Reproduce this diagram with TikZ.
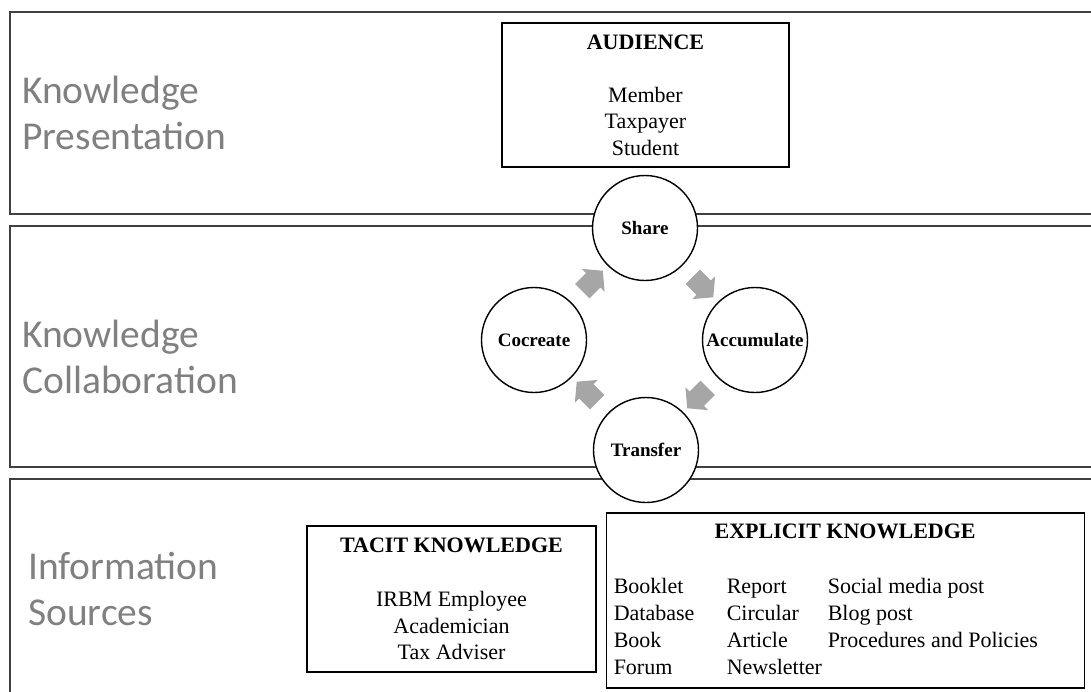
\documentclass[tikz,border=0pt]{standalone}
\usepackage{fontspec}
\setmainfont{Liberation Serif}
\newfontfamily\bandfont{Carlito}
\usetikzlibrary{positioning,shapes.arrows,calc}

\begin{document}
\begin{tikzpicture}[x=1pt, y=-1pt,
    band/.style={draw=black!75, line width=1.4pt},
    bandlabel/.style={anchor=west, align=left, inner sep=0pt, text=black!50,
        font=\bandfont\fontsize{39.5pt}{46.5pt}\selectfont},
    box/.style={draw, rectangle, line width=1.1pt, align=center,
        font=\fontsize{22pt}{26.5pt}\selectfont},
    cycle/.style={draw, circle, fill=white, line width=1.4pt, minimum size=105pt,
        inner sep=0pt, font=\bfseries\fontsize{19pt}{22pt}\selectfont},
    flow/.style={single arrow, fill=black!35, minimum height=29pt, inner xsep=0pt,
        inner ysep=10pt, single arrow head extend=6pt, single arrow tip angle=100}]
    \useasboundingbox (0,0) rectangle (1091,691);
    \clip (0,0) rectangle (1091,691);

    % layers
    \draw[band] (10,12) rectangle (1100,214);
    \draw[band] (10,226) rectangle (1100,467);
    \draw[band] (10,479) rectangle (1100,700);

    \node[bandlabel] (presentation) at (22,113) {Knowledge\\Presentation};
    \node[bandlabel] (collaboration) at (22,357) {Knowledge\\Collaboration};
    \node[bandlabel] (sources) at (28,589) {Information\\Sources};

    % audience
    \node[box, minimum width=287pt, minimum height=144pt] (audience) at (645.5,95)
        {\textbf{AUDIENCE}\\[26.5pt]Member\\Taxpayer\\Student};

    % knowledge cycle
    \node[cycle] (share) at (645,228) {Share};
    \node[cycle] (accumulate) at (755,340) {Accumulate};
    \node[cycle] (transfer) at (646,450) {Transfer};
    \node[cycle] (cocreate) at (534,340) {Cocreate};

    \foreach \from/\to/\ang [count=\i] in {cocreate/share/45, share/accumulate/-45,
        accumulate/transfer/-135, transfer/cocreate/135}
        \node[flow, rotate=\ang] (flow\i) at ($(\from)!0.5!(\to)$) {};

    % sources
    \node[box, minimum width=289pt, minimum height=146pt] (tacit) at (451.5,599)
        {\textbf{TACIT KNOWLEDGE}\\[28pt]IRBM Employee\\Academician\\Tax Adviser};
    \node[box, minimum width=478pt, minimum height=175pt, right=9pt of tacit, yshift=-1.5pt] (explicit) {};
    \node[anchor=base, font=\bfseries\fontsize{22pt}{26.5pt}\selectfont] (explicithead)
        at ($(explicit.north)+(0,26)$) {EXPLICIT KNOWLEDGE};
    \node[anchor=base west, inner sep=0pt, font=\fontsize{22pt}{27pt}\selectfont] (explicitlist)
        at ($(explicit.north west)+(8,81)$)
        {\begin{tabular}[t]{@{}p{113pt}@{}p{101pt}@{}l@{}}
        Booklet & Report & Social media post\\
        Database & Circular & Blog post\\
        Book & Article & Procedures and Policies\\
        Forum & Newsletter &
        \end{tabular}};
\end{tikzpicture}
\end{document}
